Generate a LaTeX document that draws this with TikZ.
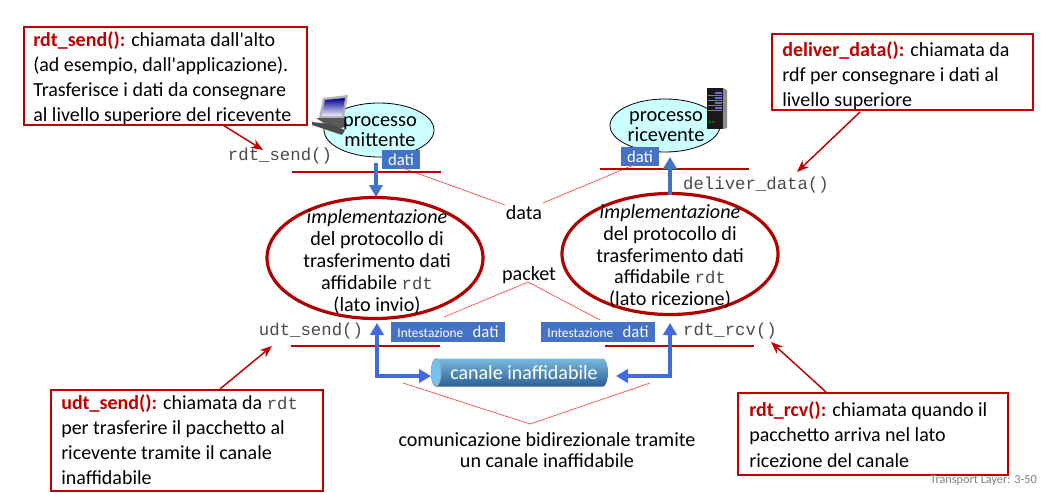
\documentclass[tikz,border=0pt]{standalone}
\usepackage{fontspec}
\setmainfont{Carlito}
\setmonofont{Liberation Mono}
\newfontfamily\plainc{Carlito}
\usetikzlibrary{arrows.meta}
\definecolor{rdtred}{RGB}{192,0,0}
\definecolor{darkred}{RGB}{176,0,0}
\definecolor{thinred}{RGB}{255,70,70}
\definecolor{flowblue}{RGB}{68,114,196}
\definecolor{brightblue}{RGB}{65,105,225}
\definecolor{pale}{RGB}{204,255,255}
\definecolor{codegray}{RGB}{75,75,75}
\definecolor{chanTop}{RGB}{120,185,225}
\definecolor{chanMid}{RGB}{70,140,195}
\definecolor{chanBot}{RGB}{45,95,145}
\definecolor{chanEnd}{RGB}{115,195,240}
\tikzset{
  callout/.style={draw=rdtred,line width=1.4pt,fill=white,inner sep=0pt},
  calltext/.style={align=left,anchor=north west,inner sep=0pt,font=\fontsize{15pt}{18.9pt}\selectfont,text=black},
  code/.style={inner sep=0pt,font=\ttfamily\fontsize{13pt}{16pt}\selectfont,text=codegray},
  bigell/.style={draw=darkred,line width=2.4pt},
  label/.style={inner sep=0pt,align=center,font=\fontsize{15.1pt}{16.4pt}\selectfont},
  proclabel/.style={inner sep=0pt,align=center,font=\fontsize{15.3pt}{15pt}\selectfont},
  hline/.style={draw=rdtred,line width=1.2pt},
  thin/.style={draw=thinred,line width=0.5pt},
  pointer/.style={draw=rdtred,line width=1.1pt,-{Stealth[length=9pt,width=7pt]}},
  dataflow/.style={draw=flowblue,line width=3pt,-{Triangle[length=9pt,width=10pt]}},
  tag/.style={fill=flowblue,text=white,inner sep=0pt},
}
\newcommand{\rr}[1]{\textcolor{rdtred}{\textbf{#1}}}
\newcommand{\cc}[1]{{\ttfamily\fontsize{13pt}{16pt}\selectfont\textcolor{codegray}{#1}}}
\newcommand{\apo}{{\plainc '}}
\newcommand{\hdr}{\fontsize{10pt}{11pt}\selectfont Intestazione\hspace{7pt}\fontsize{12.5pt}{14pt}\selectfont dati}
\begin{document}
\begin{tikzpicture}[x=0.75pt,y=-0.75pt]
\useasboundingbox (0,0) rectangle (1041,492);
\fill[white] (0,0) rectangle (1041,492);

% process ellipses
\fill[pale,draw=black,line width=0.6pt] (379,130) ellipse [x radius=55,y radius=27];
\fill[pale,draw=black,line width=0.6pt] (665,125.5) ellipse [x radius=55,y radius=26.5];

% desktop computer icon
\fill[gray!60] (323,98) -- (348,95) -- (344,118) -- (319,118) -- cycle;
\shade[top color=blue!55!black,bottom color=blue!6] (325,100) -- (345,98) -- (342,116) -- (322,116) -- cycle;
\fill[gray!70!black] (316,118) -- (344,118) -- (348,126) -- (341,128) -- (330,127) -- cycle;
\fill[black!70] (312,122) -- (330,124) -- (345,130) -- (342,135) -- (330,131) -- (312,125) -- cycle;

% server icon
\fill[black!45] (723,88) -- (727,90) -- (727,128) -- (723,129) -- cycle;
\fill[black!90] (707,88) rectangle (723,129);
\foreach \yy in {93,98,103,108}{
  \draw[blue!60!white,line width=0.8pt] (715,\yy) -- (722,\yy);
  \draw[gray,line width=0.3pt] (708,\yy+2) -- (722,\yy+2);
}
\fill[green!70!black] (710,122) circle (1); \fill[green!70!black] (713,122) circle (1);
\fill[red!70!black] (716,122) circle (0.8);

% thin red guide lines
\coordinate (dataL) at (397,166);
\coordinate (dataLb) at (505,205);
\coordinate (dataRb) at (543,203);
\coordinate (dataR) at (636,164);
\coordinate (pktL) at (444,317);
\coordinate (pktM) at (528,282);
\coordinate (pktR) at (600,320);
\coordinate (botL) at (403,383);
\coordinate (botM) at (530,424);
\coordinate (botR) at (650,383);
\draw[thin] (pktL) -- (pktM) -- (pktR);
\draw[thin] (botL) -- (botM) -- (botR);

% process labels
\node[proclabel] (pm) at (380,131.5) {processo\\mittente};
\node[proclabel] (pr) at (666,127) {processo\\ricevente};

% data tags
\node[tag,minimum width=28.5pt,minimum height=14.5pt,font=\fontsize{12.5pt}{14pt}\selectfont] (dl) at (401,159.5) {dati};
\node[tag,minimum width=28.5pt,minimum height=14.5pt,font=\fontsize{12.5pt}{14pt}\selectfont] (dr) at (640,156.5) {dati};
\draw[thin] (dataLb) -- (dataL);
\draw[thin] (dataRb) -- (dataR);

% service lines
\coordinate (l1a) at (292,172); \coordinate (l1b) at (441,172);
\coordinate (l2a) at (600,169); \coordinate (l2b) at (749,169);
\coordinate (l3a) at (291,346); \coordinate (l3b) at (440,346);
\coordinate (l4a) at (605,346); \coordinate (l4b) at (754,346);
\draw[hline] (l1a) -- (l1b);
\draw[hline] (l2a) -- (l2b);
\draw[hline] (l3a) -- (l3b);
\draw[hline] (l4a) -- (l4b);

% big ellipses
\coordinate (bl) at (375,258);
\coordinate (br) at (670,254);
\draw[bigell] (bl) ellipse [x radius=108,y radius=60.5];
\draw[bigell] (br) ellipse [x radius=108,y radius=60.5];
\node[label] at (377,262) {\textit{implementazione}\\del protocollo di\\trasferimento dati\\affidabile \cc{rdt}\\(lato invio)};
\node[label] at (670,256.5) {\textit{implementazione}\\del protocollo di\\trasferimento dati\\affidabile \cc{rdt}\\(lato ricezione)};

% data flow arrows
\coordinate (af1) at (376,163); \coordinate (af2) at (376,197);
\coordinate (af3) at (670,195); \coordinate (af4) at (670,157);
\draw[dataflow] (af1) -- (af2);
\draw[dataflow] (af3) -- (af4);

% header tags
\node[tag,minimum width=85.5pt,minimum height=15pt] (hl) at (448,332) {\hdr};
\node[tag,minimum width=85.5pt,minimum height=15pt] (hr) at (598,331.5) {\hdr};

% channel
\shade[top color=chanTop,middle color=chanMid,bottom color=chanBot] (436,358.5) -- (603,358.5) arc[start angle=-90,end angle=90,x radius=5,y radius=14] -- (436,386.5) arc[start angle=90,end angle=270,x radius=5,y radius=14] -- cycle;
\fill[chanEnd,draw=gray!70,line width=0.4pt] (436,372.5) ellipse [x radius=5,y radius=14];
\node[inner sep=0pt,text=white,font=\fontsize{15pt}{18pt}\selectfont] (chan) at (524,372.5) {canale inaffidabile};

% channel arrows
\coordinate (cl) at (431,376); \coordinate (cr) at (616,376);
\draw[brightblue,line width=3pt,{Triangle[length=9pt,width=10pt]}-{Triangle[length=9pt,width=10pt]}] (377,323) -- (377,376) -- (cl);
\draw[brightblue,line width=3pt,{Triangle[length=9pt,width=10pt]}-{Triangle[length=9pt,width=10pt]}] (cr) -- (670,376) -- (670,323);

% labels
\node[label] (data) at (524,213) {data};
\node[label] (packet) at (529,275) {packet};
\node[inner sep=0pt,align=center,font=\fontsize{15.1pt}{16pt}\selectfont] (bidir) at (547,450) {comunicazione bidirezionale tramite\\un canale inaffidabile};

% code labels
\node[code] (c1) at (280,156) {rdt\_send()};
\node[code] (c2) at (756,185) {deliver\_data()};
\node[code] (c3) at (311,331) {udt\_send()};
\node[code] (c4) at (730,331) {rdt\_rcv()};

% callouts
\node[callout,minimum width=212pt,minimum height=73.5pt,anchor=north west] (b1) at (23,26) {};
\node[calltext] at (33,31) {\rr{rdt\_send():} chiamata dall\apo alto\\(ad esempio, dall\apo applicazione).\\Trasferisce i dati da consegnare\\al livello superiore del ricevente};
\node[callout,minimum width=195.75pt,minimum height=57pt,anchor=north west] (b2) at (771,33) {};
\node[calltext] at (782,41) {\rr{deliver\_data():} chiamata da\\rdf per consegnare i dati al\\livello superiore};
\node[callout,minimum width=204pt,minimum height=75.75pt,anchor=north west] (b3) at (50,389) {};
\node[calltext] at (61,394) {\rr{udt\_send():} chiamata da \cc{rdt}\\per trasferire il pacchetto al\\ricevente tramite il canale\\inaffidabile};
\node[callout,minimum width=202.5pt,minimum height=61.5pt,anchor=north west] (b4) at (737,392) {};
\node[calltext] at (749,401.5) {\rr{rdt\_rcv():} chiamata quando il\\pacchetto arriva nel lato\\ricezione del canale};

% pointers
\coordinate (p1) at (263,150); \coordinate (p2) at (797,172);
\coordinate (p3) at (272,346); \coordinate (p4) at (771,342);
\draw[pointer] (222,124.5) -- (p1);
\draw[pointer] (860,112) -- (p2);
\draw[pointer] (220,389) -- (p3);
\draw[pointer] (826,392) -- (p4);

\node[inner sep=0pt,text=gray,font=\fontsize{9.2pt}{10pt}\selectfont,anchor=east] (tl) at (1037,481) {Transport Layer: 3-50};
\end{tikzpicture}
\end{document}
